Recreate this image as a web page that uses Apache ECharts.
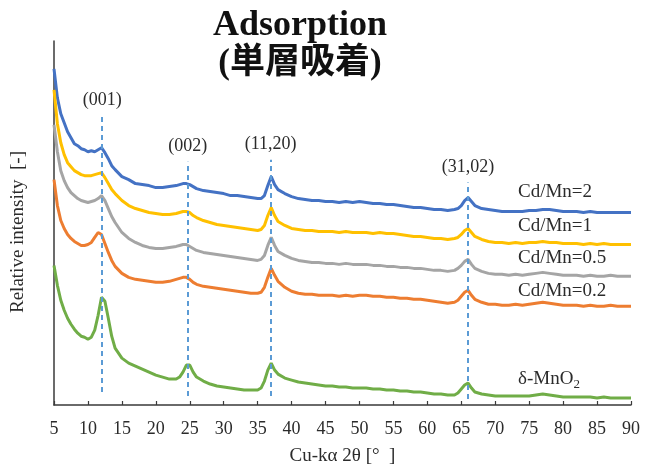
<!DOCTYPE html>
<html>
<head>
<meta charset="utf-8">
<script src="https://cdn.jsdelivr.net/npm/echarts@6/dist/echarts.min.js"></script>
<style>
html,body{margin:0;padding:0;background:#fff;}
#chart{width:645px;height:471px;}
</style>
</head>
<body>
<div id="chart"></div>
<script>
// Diffraction angle (Cu-kα 2θ, degrees)
const twoTheta = [5,5.5,6,6.5,7,7.5,8,8.5,9,9.5,10,10.5,11,11.5,12,12.5,13,13.5,14,
  15,16,17,18,19,20,21,22,23,
  23.5,24,24.5,25,25.5,26,
  27,28,29,30,31,32,33,34,35,
  35.5,36,36.5,37,37.5,38,
  39,40,41,42,43,44,45,46,47,48,49,50,51,52,53,54,55,56,57,58,59,60,61,62,63,64,
  64.5,65,65.5,66,66.5,67,
  68,69,70,71,72,73,74,75,76,77,78,79,80,81,82,83,84,85,86,87,88,89,90];

// Stacked (offset) relative intensities
const cdMn2 = [337,308,292,283,274,268,262,260,257,256,254,255,254,256,258,253,247,240,236,
  229,226,222,221,220,218,218,219,220,
  221,222,222,221,219,217,
  215,214,213,212,210,210,209,208,207,
  207,210,220,229,221,216,
  212,209,207,206,205,205,204,204,203,204,203,204,203,202,202,201,201,200,199,198,198,197,196,196,195,196,
  197,200,205,208,204,200,
  197,196,195,194,194,194,194,195,195,196,196,195,194,194,194,193,194,193,193,193,193,193,193];

const cdMn1 = [316,282,263,251,243,239,235,233,231,230,230,230,231,232,233,228,222,216,212,
  205,200,197,195,193,192,191,191,192,
  193,194,194,193,190,188,
  185,183,181,180,179,178,177,176,175,
  176,180,190,198,190,184,
  180,177,176,175,175,174,174,174,173,174,173,173,173,172,173,172,172,171,170,169,169,168,167,167,166,167,
  168,171,175,177,173,169,
  166,164,163,163,162,163,162,163,163,164,163,163,162,162,162,161,162,161,162,161,161,161,161];

const cdMn05 = [281,254,235,225,218,213,210,207,205,204,203,204,205,207,210,205,197,189,183,
  173,167,163,160,158,157,157,158,159,
  160,161,161,159,157,155,
  153,152,151,150,149,148,147,146,145,
  146,150,160,168,160,154,
  150,147,145,144,143,143,142,142,141,142,141,141,141,140,140,139,139,138,138,137,137,136,135,135,134,135,
  137,140,144,146,141,137,
  134,132,131,131,130,131,130,131,132,133,132,131,130,130,130,129,130,129,129,130,129,129,129];

const cdMn02 = [226,200,185,177,171,167,164,162,160,160,161,163,168,173,171,162,153,145,139,
  132,128,126,125,124,123,123,124,126,
  127,128,128,126,123,121,
  119,118,117,116,115,114,113,112,112,
  113,118,128,137,130,124,
  118,114,112,111,111,110,110,110,109,110,109,110,110,109,109,108,108,107,107,106,106,105,104,103,102,103,
  105,109,113,115,110,106,
  103,101,101,100,100,101,100,101,102,103,102,101,100,100,100,99,100,99,99,100,99,99,99];

const deltaMnO2 = [140,120,105,95,87,81,76,72,69,68,66,68,75,90,108,104,87,69,57,
  47,42,39,36,33,30,28,26,26,
  28,33,40,40,33,28,
  24,21,19,18,17,16,15,15,15,
  17,24,35,42,35,31,
  27,25,23,22,21,20,19,19,18,18,17,17,17,16,16,15,15,14,14,13,13,12,11,11,10,10,
  12,16,20,22,17,13,
  11,10,9,9,9,9,9,9,10,11,10,9,8,8,8,8,8,7,8,7,7,7,7];

// Reflection indices and their 2θ positions
const peakNames = ['(001)', '(002)', '(11,20)', '(31,02)'];
const peakAngles = [12.1, 24.7, 36.9, 66.0];

const seriesNames = ['Cd/Mn=2', 'Cd/Mn=1', 'Cd/Mn=0.5', 'Cd/Mn=0.2', 'δ-MnO2'];
const seriesValues = [cdMn2, cdMn1, cdMn05, cdMn02, deltaMnO2];
const seriesColors = ['#4472C4', '#FFC000', '#A5A5A5', '#ED7D31', '#70AD47'];

const serif = '"Liberation Serif","Times New Roman",serif';
const textColor = '#2b2b2b';

function toPairs(vals) {
  return twoTheta.map((t, i) => [t, vals[i]]);
}

// Extent of each dashed reference line (bottom, top) in intensity units
const lineSpans = [[13, 291], [9, 244], [9, 246], [6, 223]];

const markLineData = peakAngles.map((a, i) => [
  { coord: [a, lineSpans[i][0]] },
  { coord: [a, lineSpans[i][1]], label: { formatter: peakNames[i] } }
]);

const chart = echarts.init(document.getElementById('chart'), null, { renderer: 'canvas' });

const lineSeries = seriesValues.map((vals, i) => ({
  name: seriesNames[i],
  type: 'line',
  data: toPairs(vals),
  showSymbol: false,
  symbol: 'none',
  smooth: false,
  z: 3,
  lineStyle: { color: seriesColors[i], width: 3 },
  itemStyle: { color: seriesColors[i] }
}));

lineSeries.push({
  name: 'peaks',
  type: 'line',
  data: [],
  z: 2,
  markLine: {
    silent: true,
    symbol: ['none', 'none'],
    lineStyle: { color: '#5B9BD5', width: 2, type: [5, 4] },
    label: {
      show: true,
      position: 'end',
      distance: 6,
      fontFamily: serif,
      fontSize: 18,
      color: textColor
    },
    data: markLineData
  }
});

const labelY = [192, 226, 258, 291, 379];

chart.setOption({
  animation: false,
  backgroundColor: '#ffffff',
  grid: { left: 54, right: 14, top: 41, bottom: 65 },
  xAxis: {
    type: 'value',
    min: 5,
    max: 90,
    interval: 5,
    name: 'Cu-kα 2θ [°  ]',
    nameLocation: 'middle',
    nameGap: 42,
    nameTextStyle: { fontFamily: serif, fontSize: 19, color: textColor },
    axisLine: { lineStyle: { color: '#3a3a3a', width: 1.5 } },
    axisTick: { inside: true, length: 4, lineStyle: { color: '#3a3a3a', width: 1.2 } },
    axisLabel: { fontFamily: serif, fontSize: 18, color: textColor, margin: 15 },
    splitLine: { show: false }
  },
  yAxis: {
    type: 'value',
    min: 0,
    max: 365,
    axisLine: { show: true, lineStyle: { color: '#3a3a3a', width: 1.5 } },
    axisTick: { show: false },
    axisLabel: { show: false },
    splitLine: { show: false }
  },
  series: lineSeries,
  graphic: [
    {
      type: 'text', x: 300, y: 26,
      style: { text: 'Adsorption', font: 'bold 36px ' + serif, fill: '#111', align: 'center', verticalAlign: 'middle' }
    },
    {
      type: 'text', x: 300, y: 64,
      style: { text: '(単層吸着)', font: 'bold 35px "Liberation Serif","Noto Sans CJK JP",sans-serif', fill: '#111', align: 'center', verticalAlign: 'middle' }
    },
    {
      type: 'text', x: 18, y: 232, rotation: Math.PI / 2,
      style: { text: 'Relative intensity  [-]', font: '19px ' + serif, fill: textColor, align: 'center', verticalAlign: 'middle' }
    }
  ].concat(seriesNames.map((n, i) => ({
    type: 'text', x: 518, y: labelY[i],
    style: {
      text: n === 'δ-MnO2' ? 'δ-MnO{sub|2}' : n,
      font: '19px ' + serif,
      fill: textColor,
      verticalAlign: 'middle',
      rich: { sub: { fontFamily: serif, fontSize: 13, fill: textColor, padding: [12, 0, 0, 0] } }
    }
  })))
});
</script>
</body>
</html>
